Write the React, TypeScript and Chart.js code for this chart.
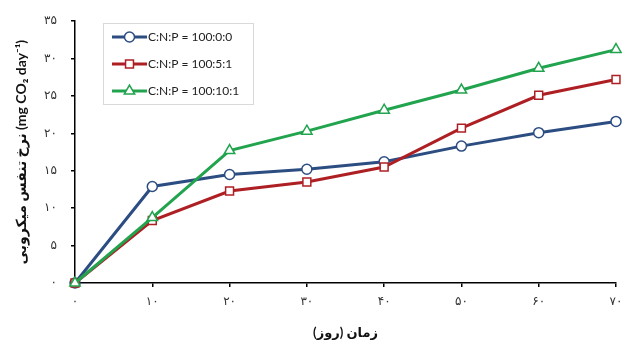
import React, { useEffect, useRef } from 'react';
import { Chart, registerables } from 'chart.js';

Chart.register(...registerables);

const days = [0, 10, 20, 30, 40, 50, 60, 70];
const seriesNames = ['C:N:P = 100:0:0', 'C:N:P = 100:5:1', 'C:N:P = 100:10:1'];
const series000 = [0, 12.9, 14.5, 15.2, 16.2, 18.3, 20.1, 21.6];
const series051 = [0, 8.35, 12.3, 13.5, 15.5, 20.7, 25.1, 27.2];
const series101 = [0, 8.75, 17.7, 20.3, 23.1, 25.8, 28.7, 31.2];
const xTickLabels = ['۰', '۱۰', '۲۰', '۳۰', '۴۰', '۵۰', '۶۰', '۷۰'];
const yTickLabels = ['۰', '۵', '۱۰', '۱۵', '۲۰', '۲۵', '۳۰', '۳۵'];
const xTitle = 'زمان (روز)\u200F';
const yTitle = 'نرخ تنفس میکروبی (mg CO₂ day⁻¹)';

const colors = ['#2C4D82', '#AE1F24', '#22A34E'];
const pointStyles = ['circle', 'rect', 'triangle'];
const pointRadii = [5, 5.6, 6];

function drawMarker(ctx: CanvasRenderingContext2D, style: string, x: number, y: number, r: number) {
  ctx.beginPath();
  if (style === 'circle') {
    ctx.arc(x, y, r, 0, Math.PI * 2);
  } else if (style === 'rect') {
    const s = r * Math.SQRT1_2;
    ctx.rect(x - s, y - s, 2 * s, 2 * s);
  } else {
    const a = 0;
    ctx.moveTo(x + Math.sin(a) * r, y - Math.cos(a) * r);
    ctx.lineTo(x + Math.sin(a + (2 * Math.PI) / 3) * r, y - Math.cos(a + (2 * Math.PI) / 3) * r);
    ctx.lineTo(x + Math.sin(a + (4 * Math.PI) / 3) * r, y - Math.cos(a + (4 * Math.PI) / 3) * r);
    ctx.closePath();
  }
  ctx.fill();
  ctx.stroke();
}

const boxLegend = {
  id: 'boxLegend',
  afterDraw(chart: any) {
    const ctx: CanvasRenderingContext2D = chart.ctx;
    ctx.save();
    const bx = 103, by = 23, bw = 150, bh = 81;
    ctx.fillStyle = '#ffffff';
    ctx.fillRect(bx, by, bw, bh);
    ctx.strokeStyle = '#d9d9d9';
    ctx.lineWidth = 1;
    ctx.strokeRect(bx + 0.5, by + 0.5, bw, bh);
    chart.data.datasets.forEach((ds: any, i: number) => {
      const y = by + 14 + i * 27;
      ctx.strokeStyle = ds.borderColor;
      ctx.lineWidth = 3;
      ctx.beginPath();
      ctx.moveTo(112, y);
      ctx.lineTo(147, y);
      ctx.stroke();
      ctx.fillStyle = '#ffffff';
      ctx.lineWidth = 1.5;
      drawMarker(ctx, ds.pointStyle, 129.5, y, ds.pointRadius);
      ctx.fillStyle = '#222222';
      ctx.font = '12px Lato, "DejaVu Sans", sans-serif';
      ctx.textBaseline = 'middle';
      ctx.textAlign = 'left';
      ctx.fillText(ds.label, 148, y + 0.5);
    });
    ctx.restore();
  },
};

export default function App() {
  const ref = useRef<HTMLCanvasElement | null>(null);
  useEffect(() => {
    if (!ref.current) return;
    const all = [series000, series051, series101];
    const chart = new Chart(ref.current, {
      type: 'line',
      data: {
        datasets: all.map((vals, i) => ({
          label: seriesNames[i],
          data: days.map((d, j) => ({ x: d, y: vals[j] })),
          borderColor: colors[i],
          backgroundColor: colors[i],
          borderWidth: 3,
          pointStyle: pointStyles[i] as any,
          pointRadius: pointRadii[i],
          pointBackgroundColor: '#ffffff',
          pointBorderColor: colors[i],
          pointBorderWidth: 1.5,
          tension: 0,
          clip: false as any,
          order: 3 - i,
        })),
      },
      options: {
        responsive: false,
        animation: false,
        layout: { autoPadding: false, padding: { left: 0, right: 0, top: 19, bottom: 0 } },
        plugins: { legend: { display: false }, tooltip: { enabled: false } },
        scales: {
          x: {
            type: 'linear',
            min: 0,
            max: 70,
            afterFit: (s: any) => { s.height = 61; s.paddingRight = 6; s.paddingLeft = 0; },
            afterBuildTicks: (s: any) => { s.ticks = days.map((d) => ({ value: d })); },
            ticks: {
              callback: (v: any) => xTickLabels[days.indexOf(Number(v))] ?? '',
              font: { family: '"DejaVu Sans", sans-serif', size: 12 },
              color: '#333333',
              padding: 8,
              maxRotation: 0,
            },
            grid: { drawOnChartArea: false, drawTicks: true, tickLength: 4, color: '#000000', lineWidth: 1.5 },
            border: { display: true, color: '#000000', width: 1.5 },
            title: {
              display: true,
              text: xTitle,
              font: { family: 'Lato, "DejaVu Sans", sans-serif', size: 13, weight: 'bold' },
              color: '#111111',
              padding: { top: 3, bottom: 3 },
            },
          },
          y: {
            type: 'linear',
            min: 0,
            max: 35,
            afterFit: (s: any) => { s.width = 75; },
            afterBuildTicks: (s: any) => { s.ticks = yTickLabels.map((_, i) => ({ value: i * 5 })); },
            ticks: {
              callback: (v: any) => yTickLabels[Math.round(Number(v) / 5)] ?? '',
              font: { family: '"DejaVu Sans", sans-serif', size: 12 },
              color: '#333333',
              padding: 14,
            },
            grid: { drawOnChartArea: false, drawTicks: true, tickLength: 4, color: '#000000', lineWidth: 1.5 },
            border: { display: true, color: '#000000', width: 1.5 },
            title: {
              display: true,
              text: yTitle,
              font: { family: 'Lato, "DejaVu Sans", sans-serif', size: 14, weight: 'bold' },
              color: '#111111',
              padding: { top: 13, bottom: 13 },
            },
          },
        },
      },
      plugins: [boxLegend],
    });
    return () => chart.destroy();
  }, []);
  return (
    <div style={{ position: 'absolute', left: 0, top: 0, width: 622, height: 344, background: '#ffffff' }}>
      <canvas ref={ref} width={622} height={344} style={{ width: 622, height: 344, display: 'block' }} />
    </div>
  );
}
